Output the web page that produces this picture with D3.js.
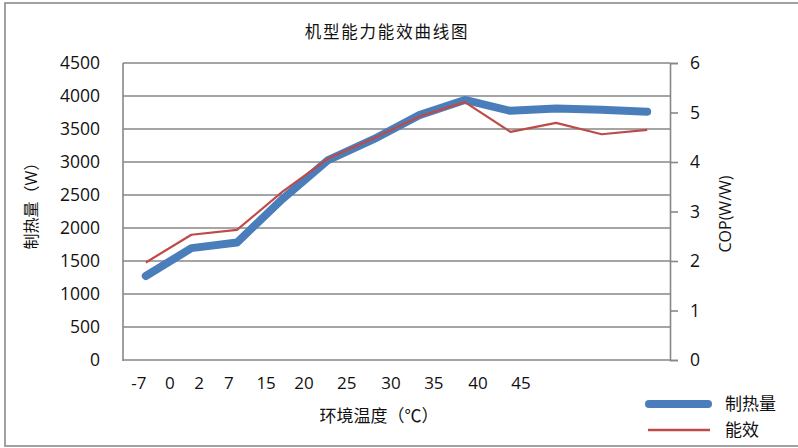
<!DOCTYPE html>
<html><head><meta charset="utf-8">
<script src="https://cdn.jsdelivr.net/npm/d3@7"></script>
<style>
html,body{margin:0;padding:0;background:#fff;}
svg text{font-family:"Open Sans","Noto Sans CJK SC",sans-serif;fill:#111;}
</style></head>
<body>
<svg id="c" width="798" height="448"></svg>
<script>
// ---- data ----
const categories = ["c1","c2","c3","c4","c5","c6","c7","c8","c9","c10","c11","c12"];
const heatValues = [1273, 1695, 1780, 2440, 3030, 3345, 3710, 3940, 3775, 3810, 3790, 3762];
const copValues  = [1.97, 2.53, 2.63, 3.40, 4.07, 4.48, 4.92, 5.21, 4.61, 4.79, 4.56, 4.65];
const xTickLabels = ["-7","0","2","7","15","20","25","30","35","40","45"];
// label anchor positions in category-axis units (0..12) as laid out in the source chart
const xTickSlots  = [0.35, 1.03, 1.67, 2.32, 3.14, 3.97, 4.91, 5.88, 6.82, 7.79, 8.73];
const leftTicks  = [0,500,1000,1500,2000,2500,3000,3500,4000,4500];
const rightTicks = [0,1,2,3,4,5,6];
const title = "机型能力能效曲线图";
const xTitle = "环境温度（℃）";
const yLeftTitle = "制热量（W）";
const yRightTitle = "COP(W/W)";
const seriesNames = ["制热量","能效"];

// ---- layout ----
const svg = d3.select("#c");
const L = 123, R = 670, T = 63, B = 360;
const blue = "#4a7ebb", red = "#be4b48", grid = "#878787";

svg.append("rect").attr("x",5).attr("y",3).attr("width",820).attr("height",443)
  .attr("fill","#fff").attr("stroke","#8a8a8a").attr("stroke-width",1.6);

const x = d3.scaleBand().domain(categories).range([L,R]);
const xs = d3.scaleLinear().domain([0,12]).range([L,R]);
const yL = d3.scaleLinear().domain([0,4500]).range([B,T]);
const yR = d3.scaleLinear().domain([0,6]).range([B,T]);

// gridlines
svg.append("g").selectAll("line").data(leftTicks).join("line")
  .attr("x1",L).attr("x2",R).attr("y1",d=>yL(d)).attr("y2",d=>yL(d))
  .attr("stroke",grid).attr("stroke-width",1.5);

// left axis line
svg.append("line").attr("x1",L).attr("x2",L).attr("y1",T).attr("y2",B+1)
  .attr("stroke",grid).attr("stroke-width",1.6);

// right axis
const ra = svg.append("g").attr("transform",`translate(${R},0)`)
  .call(d3.axisRight(yR).tickValues(rightTicks).tickSize(8).tickPadding(12).tickFormat(d3.format("d")));
ra.select(".domain").attr("stroke",grid).attr("stroke-width",1.6);
ra.selectAll(".tick line").attr("stroke",grid).attr("stroke-width",1.6);
ra.selectAll(".tick text").attr("font-size",17.5).attr("fill","#111")
  .attr("font-family",'"Open Sans","Noto Sans CJK SC",sans-serif');

// left tick labels
svg.append("g").selectAll("text").data(leftTicks).join("text")
  .attr("x",100).attr("y",d=>yL(d)).attr("dy","0.35em")
  .attr("text-anchor","end").attr("font-size",17.5).text(d=>d);

// x tick labels
svg.append("g").selectAll("text").data(xTickLabels).join("text")
  .attr("x",(d,i)=>xs(xTickSlots[i])).attr("y",389)
  .attr("text-anchor","middle").attr("font-size",17).text(d=>d);

// titles
svg.append("text").attr("x",387).attr("y",38).attr("text-anchor","middle")
  .attr("font-size",16.5).attr("letter-spacing",1.8).attr("fill","#222").text(title);
svg.append("text").attr("x",379).attr("y",422).attr("text-anchor","middle")
  .attr("font-size",17).text(xTitle);
svg.append("text").attr("transform","translate(37,202) rotate(-90)")
  .attr("text-anchor","middle").attr("font-size",16).text(yLeftTitle);
svg.append("text").attr("transform","translate(731,214) rotate(-90)")
  .attr("text-anchor","middle").attr("font-size",16).text(yRightTitle);

// series
const cx = c => x(c) + x.bandwidth()/2;
const lineHeat = d3.line().x((d,i)=>cx(categories[i])).y(d=>yL(d));
const lineCop  = d3.line().x((d,i)=>cx(categories[i])).y(d=>yR(d));
svg.append("path").datum(heatValues).attr("d",lineHeat).attr("fill","none")
  .attr("stroke",blue).attr("stroke-width",8).attr("stroke-linecap","round").attr("stroke-linejoin","round");
svg.append("path").datum(copValues).attr("d",lineCop).attr("fill","none")
  .attr("stroke",red).attr("stroke-width",2.2).attr("stroke-linejoin","round");

// legend
const lg = svg.append("g");
const legendItems = [{name:seriesNames[0],c:blue,w:8,cap:"round",y:404},{name:seriesNames[1],c:red,w:2.5,cap:"butt",y:430}];
lg.selectAll("line").data(legendItems).join("line")
  .attr("x1",d=>d.cap==="round"?649:648).attr("x2",d=>d.cap==="round"?708:710)
  .attr("y1",d=>d.y).attr("y2",d=>d.y)
  .attr("stroke",d=>d.c).attr("stroke-width",d=>d.w).attr("stroke-linecap",d=>d.cap);
lg.selectAll("text").data(legendItems).join("text")
  .attr("x",725).attr("y",d=>d.y).attr("dy","0.36em").attr("font-size",17).text(d=>d.name);
</script>
</body></html>
